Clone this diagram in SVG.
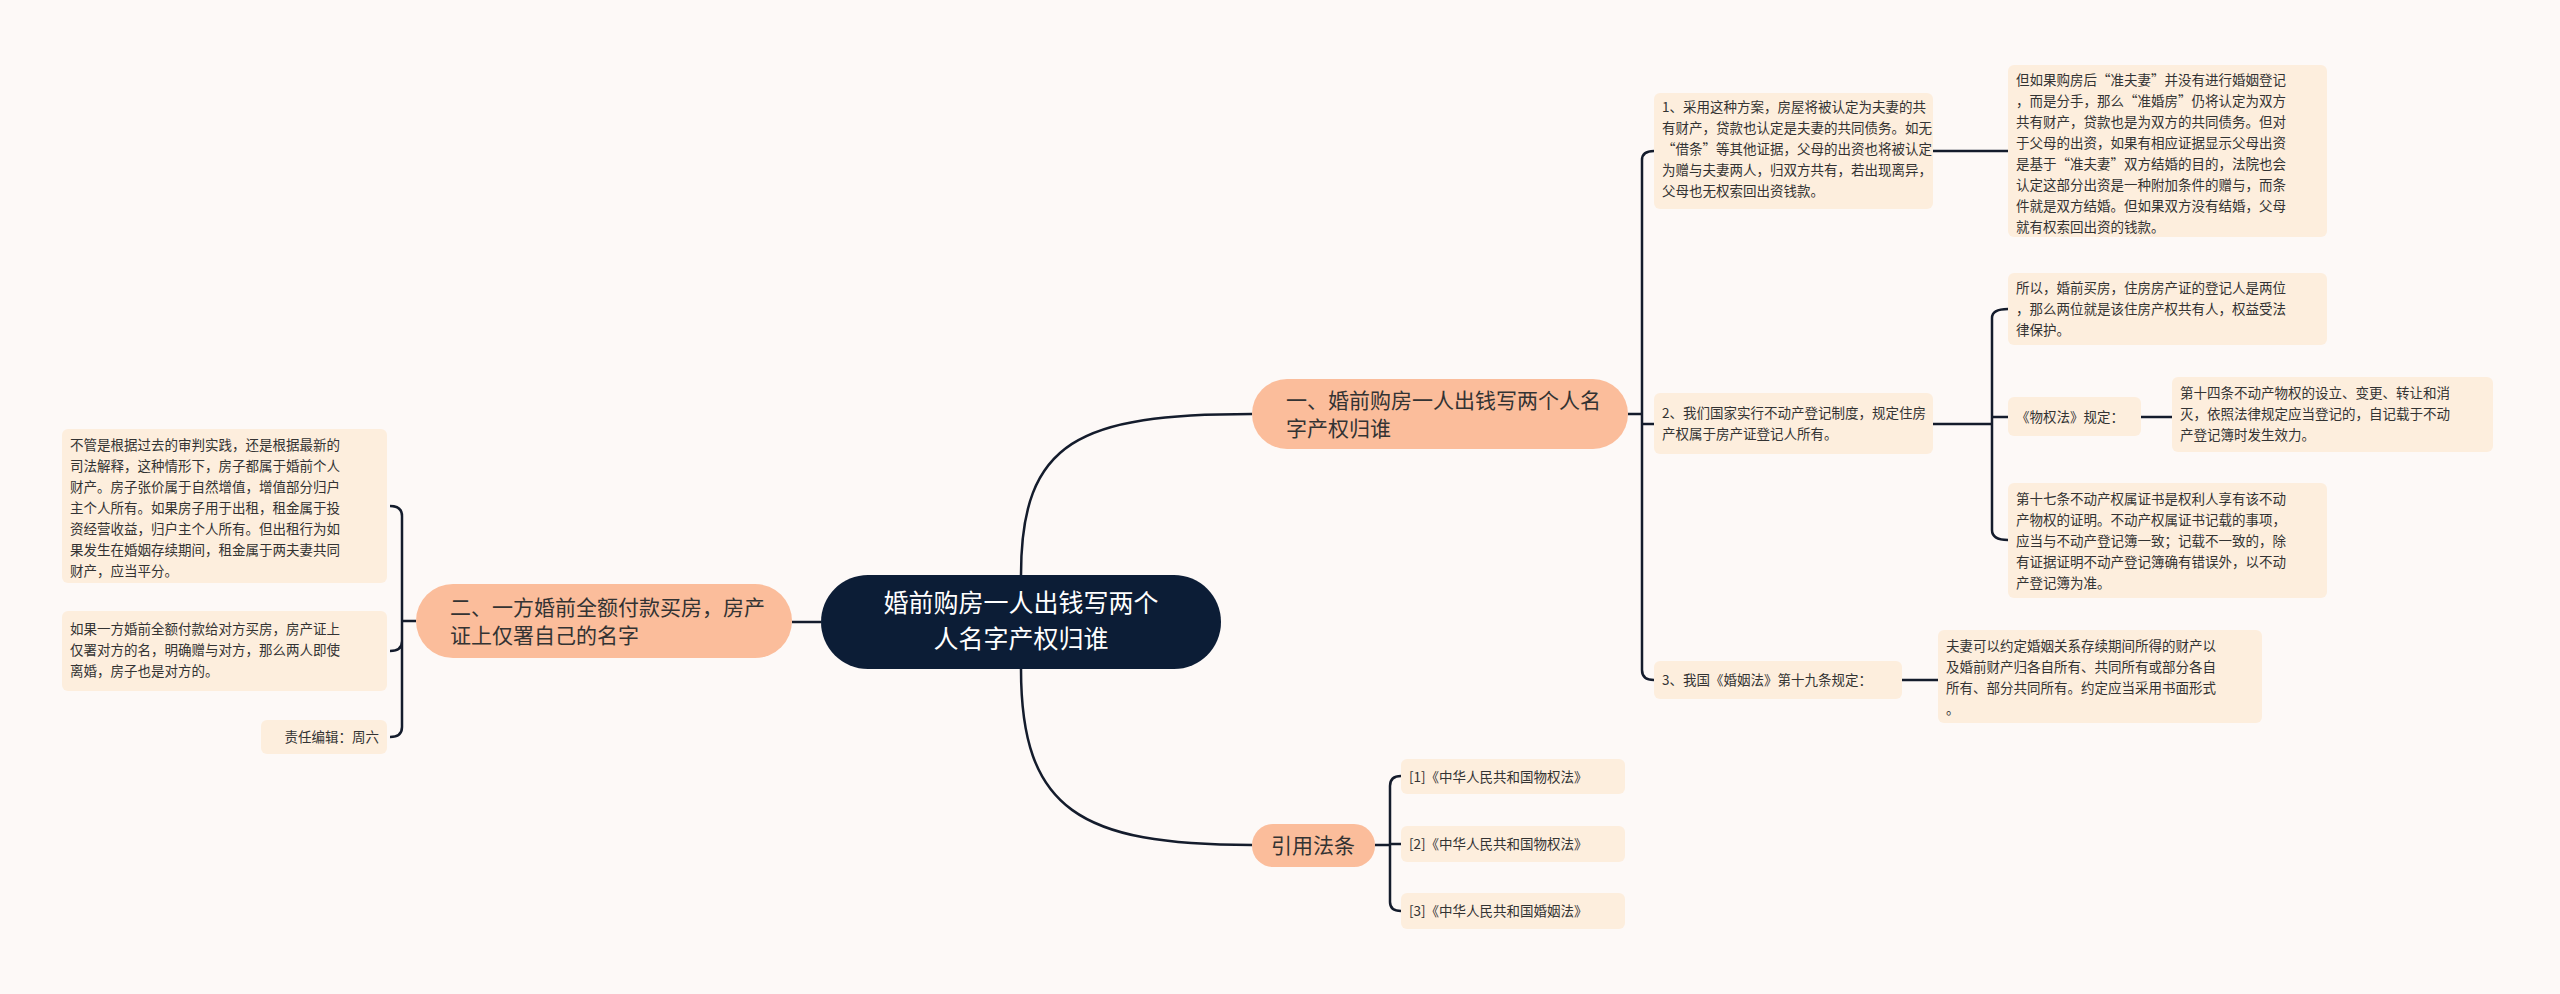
<svg xmlns="http://www.w3.org/2000/svg" width="2560" height="994" viewBox="0 0 2560 994">
<style>
text{font-family:"Noto Sans CJK SC","Noto Sans",sans-serif;fill:#333}
.leaf rect{fill:#fdeedd}
.leaf text{font-size:13.5px}
.br rect{fill:#fbbd9b}
.br text{font-size:21px}
.c{fill:none;stroke:#141c2c;stroke-width:2.5}
</style>
<rect width="2560" height="994" fill="#fdf9f7"/>
<g id="connectors">
<path class="c" d="M1021 575 C1021 440 1080 414 1252 414"/>
<path class="c" d="M1021 669 C1021 810 1080 845 1252 845"/>
<path class="c" d="M821 622 L792 622"/>
<path class="c" d="M1628 414 L1642 414 M1642 414 V160 Q1642 151 1654 151 M1642 414 V424 H1654 M1642 414 V670 Q1642 680 1654 680"/>
<path class="c" d="M1933 151 H2008"/>
<path class="c" d="M1933 424 H1992 M1992 424 V318 Q1992 309 2008 309 M1992 417 H2008 M1992 424 V530 Q1992 540 2008 540"/>
<path class="c" d="M2141 417 H2172"/>
<path class="c" d="M1902 680 H1938"/>
<path class="c" d="M1375 845 H1390 M1390 845 V786 Q1390 776 1401 776 M1390 844 H1401 M1390 845 V902 Q1390 911 1401 911"/>
<path class="c" d="M416 621 H402 M402 621 V516 Q402 506 390 506 M402 621 V641 Q402 651 390 651 M402 621 V727 Q402 737 390 737"/>
</g>
<g id="center"><rect x="821" y="575" width="400" height="94" rx="47" fill="#0c1d36"/>
<text x="1021" y="612" font-size="25" text-anchor="middle" style="fill:#fff">婚前购房一人出钱写两个</text>
<text x="1021" y="648" font-size="25" text-anchor="middle" style="fill:#fff">人名字产权归谁</text></g>
<g id="b1" class="br"><rect x="1252" y="379" width="376" height="70" rx="35"/>
<text x="1286" y="408">一、婚前购房一人出钱写两个人名</text><text x="1286" y="436">字产权归谁</text></g>
<g id="b2" class="br"><rect x="416" y="584" width="376" height="74" rx="37"/>
<text x="450" y="615">二、一方婚前全额付款买房，房产</text><text x="450" y="643">证上仅署自己的名字</text></g>
<g id="b3" class="br"><rect x="1252" y="824" width="123" height="43" rx="21"/>
<text x="1313" y="853" text-anchor="middle">引用法条</text></g>
<g id="n1" class="leaf"><rect x="1654" y="93" width="279" height="116" rx="6"/>
<text x="1662" y="112">1、采用这种方案，房屋将被认定为夫妻的共</text><text x="1662" y="133">有财产，贷款也认定是夫妻的共同债务。如无</text><text x="1662" y="154">“借条”等其他证据，父母的出资也将被认定</text><text x="1662" y="175">为赠与夫妻两人，归双方共有，若出现离异，</text><text x="1662" y="196">父母也无权索回出资钱款。</text></g>
<g id="n2" class="leaf"><rect x="1654" y="393" width="279" height="61" rx="6"/>
<text x="1662" y="418">2、我们国家实行不动产登记制度，规定住房</text><text x="1662" y="439">产权属于房产证登记人所有。</text></g>
<g id="n3" class="leaf"><rect x="1654" y="661" width="248" height="38" rx="6"/>
<text x="1662" y="685">3、我国《婚姻法》第十九条规定：</text></g>
<g id="m1" class="leaf"><rect x="2008" y="65" width="319" height="172" rx="6"/>
<text x="2016" y="85">但如果购房后“准夫妻”并没有进行婚姻登记</text><text x="2016" y="106">，而是分手，那么“准婚房”仍将认定为双方</text><text x="2016" y="127">共有财产，贷款也是为双方的共同债务。但对</text><text x="2016" y="148">于父母的出资，如果有相应证据显示父母出资</text><text x="2016" y="169">是基于“准夫妻”双方结婚的目的，法院也会</text><text x="2016" y="190">认定这部分出资是一种附加条件的赠与，而条</text><text x="2016" y="211">件就是双方结婚。但如果双方没有结婚，父母</text><text x="2016" y="232">就有权索回出资的钱款。</text></g>
<g id="m2" class="leaf"><rect x="2008" y="273" width="319" height="72" rx="6"/>
<text x="2016" y="293">所以，婚前买房，住房房产证的登记人是两位</text><text x="2016" y="314">，那么两位就是该住房产权共有人，权益受法</text><text x="2016" y="335">律保护。</text></g>
<g id="m3" class="leaf"><rect x="2008" y="397" width="133" height="39" rx="6"/>
<text x="2016" y="422">《物权法》规定：</text></g>
<g id="m5" class="leaf"><rect x="2172" y="377" width="321" height="75" rx="6"/>
<text x="2180" y="398">第十四条不动产物权的设立、变更、转让和消</text><text x="2180" y="419">灭，依照法律规定应当登记的，自记载于不动</text><text x="2180" y="440">产登记簿时发生效力。</text></g>
<g id="m4" class="leaf"><rect x="2008" y="483" width="319" height="115" rx="6"/>
<text x="2016" y="504">第十七条不动产权属证书是权利人享有该不动</text><text x="2016" y="525">产物权的证明。不动产权属证书记载的事项，</text><text x="2016" y="546">应当与不动产登记簿一致；记载不一致的，除</text><text x="2016" y="567">有证据证明不动产登记簿确有错误外，以不动</text><text x="2016" y="588">产登记簿为准。</text></g>
<g id="m6" class="leaf"><rect x="1938" y="630" width="324" height="93" rx="6"/>
<text x="1946" y="651">夫妻可以约定婚姻关系存续期间所得的财产以</text><text x="1946" y="672">及婚前财产归各自所有、共同所有或部分各自</text><text x="1946" y="693">所有、部分共同所有。约定应当采用书面形式</text><text x="1946" y="714">。</text></g>
<g id="c1" class="leaf"><rect x="1401" y="759" width="224" height="35" rx="6"/><text x="1409" y="782">[1]《中华人民共和国物权法》</text></g>
<g id="c2" class="leaf"><rect x="1401" y="826" width="224" height="36" rx="6"/><text x="1409" y="849">[2]《中华人民共和国物权法》</text></g>
<g id="c3" class="leaf"><rect x="1401" y="893" width="224" height="36" rx="6"/><text x="1409" y="916">[3]《中华人民共和国婚姻法》</text></g>
<g id="l1" class="leaf"><rect x="62" y="429" width="325" height="154" rx="6"/>
<text x="70" y="450">不管是根据过去的审判实践，还是根据最新的</text><text x="70" y="471">司法解释，这种情形下，房子都属于婚前个人</text><text x="70" y="492">财产。房子张价属于自然增值，增值部分归户</text><text x="70" y="513">主个人所有。如果房子用于出租，租金属于投</text><text x="70" y="534">资经营收益，归户主个人所有。但出租行为如</text><text x="70" y="555">果发生在婚姻存续期间，租金属于两夫妻共同</text><text x="70" y="576">财产，应当平分。</text></g>
<g id="l2" class="leaf"><rect x="62" y="611" width="325" height="80" rx="6"/>
<text x="70" y="634">如果一方婚前全额付款给对方买房，房产证上</text><text x="70" y="655">仅署对方的名，明确赠与对方，那么两人即使</text><text x="70" y="676">离婚，房子也是对方的。</text></g>
<g id="l3" class="leaf"><rect x="261" y="720" width="126" height="34" rx="6"/>
<text x="379" y="742" text-anchor="end">责任编辑：周六</text></g>
</svg>
